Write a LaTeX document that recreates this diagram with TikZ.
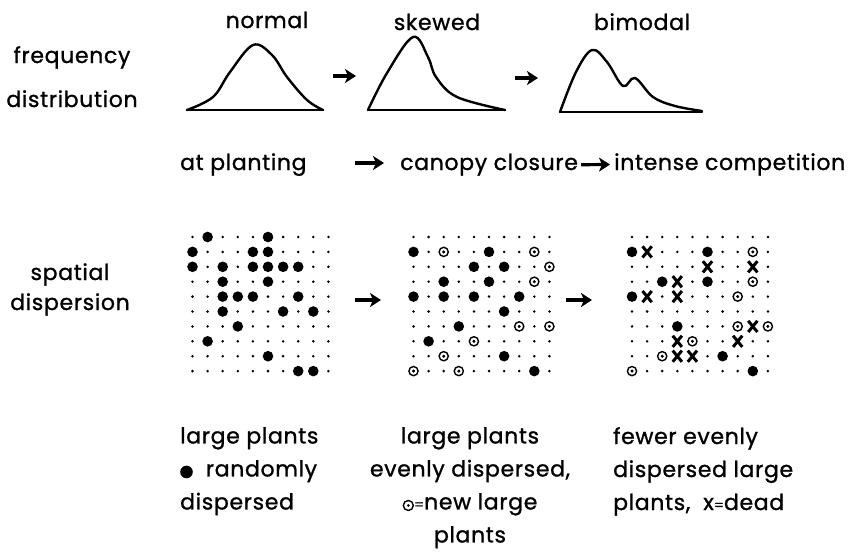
\documentclass[tikz,border=0pt]{standalone}
\usepackage{fontspec}
\setmainfont{Poppins}
\newfontfamily\figfont{Poppins}[FakeBold=1.1,LetterSpace=3]
\usetikzlibrary{arrows.meta}
\newcommand\gx{15.1}
\newcommand\gy{14.9}
\newcommand\newmark{\tikz[baseline=-4pt]{\draw[line width=1.4pt] (0,0) circle (5pt);\fill (0,0) circle (1.5pt);}}
\newcommand\bigmark{\tikz[baseline=-4.5pt]\fill (0,0) circle (6.3pt);}
\tikzset{
  lbl/.style={font=\figfont\fontsize{22}{33}\selectfont,inner sep=0pt},
  dcurve/.style={line width=2.4pt,line join=round,line cap=round},
  flow/.style={line width=3.2pt,-{Stealth[length=11pt,width=14pt,inset=3pt]}},
  site/.style={fill=black},
  plant/.style={fill=black},
  newplant/.style={draw,line width=1.4pt},
  deadx/.style={draw,line width=3pt}
}
\begin{document}
\begin{tikzpicture}[x=1pt,y=-1pt]
  \useasboundingbox (0,0) rectangle (854,554);

  % row labels
  \node[lbl,align=center,font=\figfont\fontsize{22}{44}\selectfont,anchor=base] (freq) at (72,107) {frequency\\distribution};
  \node[lbl,align=center,font=\figfont\fontsize{22}{30}\selectfont,anchor=base] (disp) at (70,310) {spatial\\dispersion};

  % frequency curves
  \node[lbl,anchor=base] (normal) at (267,28) {normal};
  \node[lbl,anchor=base] (skewed) at (437,30) {skewed};
  \node[lbl,anchor=base] (bimodal) at (642,30) {bimodal};
  \draw[dcurve] (187,110) -- (323,110);
  \draw[dcurve] plot[smooth,tension=0.6] coordinates {(187,110) (213,97) (230,72) (253,45) (272,55) (287,77) (307,100) (323,110)};
  \draw[dcurve] (368,110) -- (505,110);
  \draw[dcurve] plot[smooth,tension=0.6] coordinates {(368,110) (387,73) (413,37) (428,57) (436,77) (457,97) (505,110)};
  \draw[dcurve] (560,112) -- (702,112);
  \draw[dcurve] plot[smooth,tension=0.6] coordinates {(560,112) (576,72) (592,50) (607,62) (623,86) (635,78) (653,97) (675,106) (702,111)};
  \coordinate (c1e) at (333,76);
  \coordinate (c2w) at (356,76);
  \coordinate (c2e) at (515,78);
  \coordinate (c3w) at (538,78);
  \draw[flow] (c1e) -- (c2w);
  \draw[flow] (c2e) -- (c3w);

  % stages
  \node[lbl,anchor=base west] (plant) at (180,170) {at planting};
  \node[lbl,anchor=base west] (canopy) at (400,170) {canopy closure};
  \node[lbl,anchor=base west] (compet) at (614,170) {intense competition};
  \coordinate (s1w) at (355,163);
  \coordinate (s1e) at (384,163);
  \draw[flow] (s1w) -- (s1e);
  \draw[flow] ([xshift=3pt]canopy.east) -- ([xshift=-4pt]compet.west);

  % grid 1: at planting
  \begin{scope}[shift={(192.5,237)}]
    \foreach \c in {0,...,9} \foreach \r in {0,...,9} \fill[site] (\c*\gx,\r*\gy) circle (1.4pt);
    \foreach \c/\r in {1/0,5/0,0/1,4/1,5/1,0/2,2/2,4/2,5/2,6/2,7/2,2/3,5/3,2/4,3/4,4/4,7/4,2/5,6/5,8/5,3/6,1/7,5/8,7/9,8/9}
      \fill[plant] (\c*\gx,\r*\gy) circle (5.3pt);
  \end{scope}
  % grid 2: canopy closure
  \begin{scope}[shift={(413.5,237)}]
    \foreach \c in {0,...,9} \foreach \r in {0,...,9} \fill[site] (\c*\gx,\r*\gy) circle (1.4pt);
    \foreach \c/\r in {0/1,5/1,4/2,6/2,2/3,5/3,0/4,2/4,4/4,7/4,6/5,3/6,1/7,6/8,8/9}
      \fill[plant] (\c*\gx,\r*\gy) circle (5.3pt);
    \foreach \c/\r in {2/1,8/1,9/2,8/3,7/6,9/6,4/7,2/8,0/9,3/9}
      {\draw[newplant] (\c*\gx,\r*\gy) circle (4.6pt); \fill (\c*\gx,\r*\gy) circle (1.6pt);}
  \end{scope}
  % grid 3: intense competition
  \begin{scope}[shift={(632,237)}]
    \foreach \c in {0,...,9} \foreach \r in {0,...,9} \fill[site] (\c*\gx,\r*\gy) circle (1.4pt);
    \foreach \c/\r in {0/1,5/1,2/3,5/3,0/4,3/6,6/8,8/9}
      \fill[plant] (\c*\gx,\r*\gy) circle (5.3pt);
    \foreach \c/\r in {8/1,8/3,7/4,7/6,9/6,4/7,2/8,0/9}
      {\draw[newplant] (\c*\gx,\r*\gy) circle (4.6pt); \fill (\c*\gx,\r*\gy) circle (1.6pt);}
    \foreach \c/\r in {1/1,5/2,8/2,3/3,1/4,3/4,8/6,3/7,7/7,3/8,4/8}
      \draw[deadx] (\c*\gx-4.6,\r*\gy-5.6) -- (\c*\gx+4.6,\r*\gy+5.6) (\c*\gx-4.6,\r*\gy+5.6) -- (\c*\gx+4.6,\r*\gy-5.6);
  \end{scope}
  \coordinate (g1e) at (355,300);
  \coordinate (g2w) at (381,300);
  \coordinate (g2e) at (566,300);
  \coordinate (g3w) at (592,300);
  \draw[flow] (g1e) -- (g2w);
  \draw[flow] (g2e) -- (g3w);

  % captions
  \node[lbl,align=left,anchor=north west] (cap1) at (180,427) {large plants\\\bigmark\ \ randomly\\dispersed};
  \node[lbl,align=center,anchor=north] (cap2) at (470,427) {large plants\\evenly dispersed,\\\newmark{\fontsize{14}{14}\selectfont =}new large\\plants};
  \node[lbl,align=left,anchor=north west] (cap3) at (613,427) {fewer evenly\\dispersed large\\plants,~ x{\fontsize{14}{14}\selectfont =}dead};
\end{tikzpicture}
\end{document}
